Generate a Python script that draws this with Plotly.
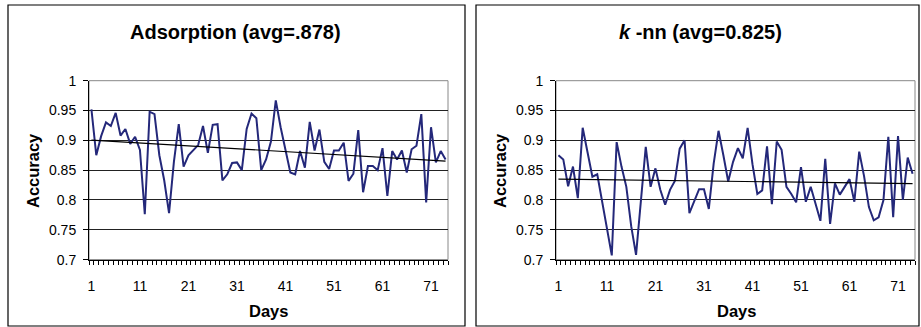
import numpy as np
import plotly.graph_objects as go

days = list(range(1, 75))

adsorption = [
    0.952, 0.875, 0.907, 0.930, 0.924, 0.946, 0.908, 0.919, 0.894, 0.906,
    0.884, 0.776, 0.948, 0.944, 0.875, 0.833, 0.778, 0.864, 0.927, 0.856,
    0.875, 0.884, 0.892, 0.924, 0.879, 0.926, 0.927, 0.833, 0.843, 0.862,
    0.863, 0.850, 0.919, 0.945, 0.937, 0.850, 0.868, 0.898, 0.967, 0.922,
    0.886, 0.846, 0.843, 0.882, 0.854, 0.931, 0.883, 0.918, 0.864, 0.852,
    0.883, 0.883, 0.896, 0.832, 0.844, 0.917, 0.813, 0.857, 0.857, 0.850,
    0.887, 0.807, 0.882, 0.868, 0.883, 0.846, 0.885, 0.891, 0.944, 0.796,
    0.922, 0.863, 0.882, 0.868,
]

knn = [
    0.875, 0.868, 0.823, 0.856, 0.803, 0.921, 0.880, 0.839, 0.843, 0.797,
    0.752, 0.707, 0.897, 0.856, 0.822, 0.756, 0.708, 0.800, 0.889, 0.822,
    0.853, 0.817, 0.792, 0.817, 0.832, 0.886, 0.900, 0.778, 0.797, 0.818,
    0.818, 0.785, 0.861, 0.916, 0.875, 0.831, 0.864, 0.887, 0.870, 0.921,
    0.860, 0.810, 0.816, 0.890, 0.793, 0.898, 0.884, 0.822, 0.810, 0.796,
    0.855, 0.797, 0.822, 0.794, 0.765, 0.869, 0.760, 0.828, 0.809, 0.822,
    0.835, 0.797, 0.881, 0.840, 0.788, 0.766, 0.771, 0.800, 0.906, 0.771,
    0.907, 0.800, 0.871, 0.844,
]

titles = ["Adsorption (avg=.878)", "<i>k</i> -nn (avg=0.825)"]
x_ticks = [1, 11, 21, 31, 41, 51, 61, 71]
y_ticks = [0.7, 0.75, 0.8, 0.85, 0.9, 0.95, 1.0]
y_ticktext = ["0.7", "0.75", "0.8", "0.85", "0.9", "0.95", "1"]

W, H = 921, 327
FONT = "Liberation Sans, Arial, sans-serif"
LINE_COLOR = "#24287A"


def px(x):
    return x / W


def py(y):
    return 1 - y / H


fig = go.Figure()

for i, series in enumerate([adsorption, knn]):
    xa = "x" if i == 0 else "x2"
    ya = "y" if i == 0 else "y2"
    fig.add_trace(go.Scatter(x=days, y=series, mode="lines",
                             line=dict(color=LINE_COLOR, width=2),
                             xaxis=xa, yaxis=ya, showlegend=False))
    slope, intercept = np.polyfit(days, series, 1)
    trend = [slope * d + intercept for d in days]
    fig.add_trace(go.Scatter(x=[days[0], days[-1]], y=[trend[0], trend[-1]],
                             mode="lines", line=dict(color="black", width=1.2),
                             xaxis=xa, yaxis=ya, showlegend=False))

plot_left = [89, 556]
plot_w = 359
plot_top, plot_bot = 80.7, 259.6

common_x = dict(range=[0.5, 74.5], tickmode="array", tickvals=x_ticks,
                ticks="outside", ticklen=0, tickwidth=0,
                tickcolor="rgba(0,0,0,0)",
                showline=True, linecolor="black", linewidth=1,
                showgrid=False, zeroline=False, automargin=False,
                tickfont=dict(family=FONT, size=14, color="black"),
                ticklabelstandoff=14,
                minor=dict(ticks="outside", tickmode="linear", tick0=0.5,
                           dtick=1, ticklen=4, tickcolor="black",
                           tickwidth=1, showgrid=False))
common_y = dict(range=[0.7, 1.0], tickmode="array", tickvals=y_ticks,
                ticktext=y_ticktext, ticks="outside", ticklen=5,
                tickcolor="black", showline=True, linecolor="black",
                linewidth=1, showgrid=True, gridcolor="#222", gridwidth=1,
                zeroline=False, ticklabelstandoff=4, automargin=False,
                tickfont=dict(family=FONT, size=14, color="black"))

ydom = [py(plot_bot), py(plot_top)]
fig.update_layout(
    template="none",
    xaxis=dict(domain=[px(plot_left[0]), px(plot_left[0] + plot_w)],
               anchor="y", **common_x),
    yaxis=dict(domain=ydom, anchor="x", **common_y),
    xaxis2=dict(domain=[px(plot_left[1]), px(plot_left[1] + plot_w)],
                anchor="y2", **common_x),
    yaxis2=dict(domain=ydom, anchor="x2", **common_y),
)

shapes = []
boxes = [(8, 465), (476, 919)]
for (bx0, bx1) in boxes:
    shapes.append(dict(type="rect", xref="paper", yref="paper",
                       x0=px(bx0), x1=px(bx1), y0=py(326), y1=py(5),
                       line=dict(color="black", width=1.2),
                       fillcolor="rgba(0,0,0,0)", layer="below"))
for xr, yr in [("x domain", "y domain"), ("x2 domain", "y2 domain")]:
    shapes.append(dict(type="rect", xref=xr, yref=yr, x0=0, x1=1, y0=0, y1=1,
                       line=dict(color="#888", width=1),
                       fillcolor="rgba(0,0,0,0)", layer="below"))

annotations = []
title_cx = [235, 700]
ylab_cx = [33, 500]
days_cx = [268, 736]
for i in range(2):
    annotations.append(dict(text="<b>%s</b>" % titles[i], xref="paper",
                            yref="paper", x=px(title_cx[i]), y=py(32),
                            xanchor="center", yanchor="middle",
                            showarrow=False,
                            font=dict(family=FONT, size=20, color="black")))
    annotations.append(dict(text="<b>Accuracy</b>", xref="paper",
                            yref="paper", x=px(ylab_cx[i]), y=py(171),
                            xanchor="center", yanchor="middle",
                            textangle=-90, showarrow=False,
                            font=dict(family=FONT, size=16.5, color="black")))
    annotations.append(dict(text="<b>Days</b>", xref="paper", yref="paper",
                            x=px(days_cx[i]), y=py(311), xanchor="center",
                            yanchor="middle", showarrow=False,
                            font=dict(family=FONT, size=16.5, color="black")))

fig.update_layout(
    width=W, height=H, margin=dict(l=0, r=0, t=0, b=0, pad=0),
    paper_bgcolor="white", plot_bgcolor="white",
    shapes=shapes, annotations=annotations, showlegend=False,
    font=dict(family=FONT, color="black"),
)

fig.write_html("out.html",
               config={"displayModeBar": False, "staticPlot": True},
               post_script="document.body.style.margin='0';"
                           "document.body.style.overflow='hidden';")
